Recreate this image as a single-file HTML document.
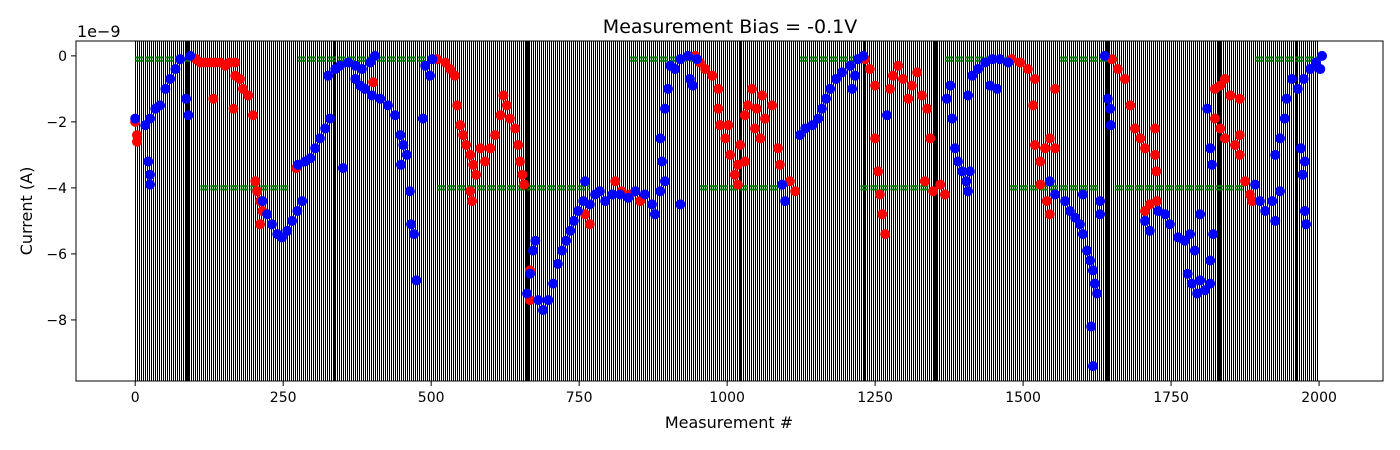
<!DOCTYPE html>
<html><head><meta charset="utf-8"><style>
body{margin:0;background:#fff}
svg{display:block;font-family:"DejaVu Sans","Liberation Sans",sans-serif}
</style></head><body>
<svg id="chart" width="1400" height="450" viewBox="0 0 1400 450" xmlns="http://www.w3.org/2000/svg">
<defs>
<pattern id="stripes" x="135" y="0" width="2" height="10" patternUnits="userSpaceOnUse">
<rect x="0" y="0" width="1.15" height="10" fill="#000" shape-rendering="crispEdges"/>
</pattern>
</defs>
<rect x="0" y="0" width="1400" height="450" fill="#fff"/>
<g id="plot"></g>
<text x="730" y="33" font-size="19" text-anchor="middle">Measurement Bias = -0.1V</text>
<text x="729" y="428" font-size="16" text-anchor="middle">Measurement #</text>
<text transform="translate(32,211) rotate(-90)" font-size="16" text-anchor="middle">Current (A)</text>
<text x="77" y="37" font-size="16">1e−9</text>
</svg>
<script>
const xTicks=[0,250,500,750,1000,1250,1500,1750,2000];
const yTicks=[0,-2,-4,-6,-8];
const greenTopSegs=[[0,93],[275,498],[836,954],[1123,1241],[1368,1478],[1562,1664],[1892,2000]];
const greenBotSegs=[[110,262],[510,768],[954,1090],[1225,1343],[1478,1630],[1655,1875]];
const darkBands=[85,335,660,1020,1230,1350,1640,1830,1960];
const blueX=[0,17,25,34,42,51,59,68,76,93,22,25,25,86,90,215,223,231,240,248,257,265,274,282,275,287,296,304,312,321,329,326,338,346,360,372,383,397,405,351,372,380,388,400,414,427,439,448,453,449,459,464,466,471,475,486,490,502,498,
662,667,672,676,681,689,698,706,714,721,728,735,741,748,757,760,768,777,785,794,806,819,833,845,861,873,887,895,878,921,887,890,895,900,904,912,921,934,937,942,949,1093,1098,
1123,1132,1144,1154,1160,1167,1174,1184,1194,1208,1221,1230,1216,1211,1270,1371,1377,1380,1385,1390,1397,1404,1410,1407,
1407,1414,1424,1436,1448,1461,1475,1444,1456,1545,1554,1571,1579,1588,1596,1601,1608,1613,1618,1621,1625,1615,1618,1601,1630,1630,1638,1643,1647,1648,
1706,1714,1728,1740,1748,1762,1773,1782,1790,1778,1785,1799,1807,1816,1794,1816,1821,1799,1811,1816,1819,1892,1900,1909,1921,1934,1926,
1926,1934,1942,1945,1954,1964,1974,1985,1995,2005,2002,1969,1976,1972,1978,1976];
const blueY=[-1.9,-2.1,-1.9,-1.6,-1.5,-1.0,-0.7,-0.4,-0.1,0,-3.2,-3.6,-3.9,-1.3,-1.8,-4.4,-4.8,-5.1,-5.4,-5.5,-5.3,-5.0,-4.7,-4.4,-3.3,-3.2,-3.1,-2.8,-2.5,-2.2,-1.9,-0.6,-0.4,-0.3,-0.2,-0.3,-0.4,-0.2,0,-3.4,-0.7,-0.9,-1.0,-1.2,-1.3,-1.5,-1.8,-2.4,-2.7,-3.3,-3.0,-4.1,-5.1,-5.4,-6.8,-1.9,-0.3,-0.1,-0.6,
-7.2,-6.6,-5.9,-5.6,-7.4,-7.7,-7.4,-6.9,-6.3,-5.9,-5.6,-5.3,-5.0,-4.7,-4.4,-3.8,-4.5,-4.2,-4.1,-4.4,-4.2,-4.2,-4.3,-4.1,-4.2,-4.5,-4.1,-3.8,-4.8,-4.5,-2.5,-3.2,-1.6,-1.0,-0.3,-0.4,-0.1,0,-0.7,-0.9,-0.1,-3.9,-4.4,
-2.4,-2.2,-2.1,-1.9,-1.6,-1.3,-1.0,-0.7,-0.5,-0.3,-0.1,0,-0.6,-1.0,-1.8,-1.3,-0.9,-1.9,-2.8,-3.2,-3.5,-3.8,-3.5,-4.1,
-1.2,-0.6,-0.4,-0.2,-0.1,-0.1,-0.2,-0.9,-1.0,-3.8,-4.2,-4.4,-4.7,-4.9,-5.1,-5.4,-5.9,-6.2,-6.5,-6.9,-7.2,-8.2,-9.4,-4.2,-4.8,-4.4,0,-1.3,-1.6,-2.1,
-5.0,-5.3,-4.7,-4.8,-5.1,-5.5,-5.6,-5.4,-5.9,-6.6,-6.9,-6.8,-7.1,-6.9,-7.2,-6.2,-5.4,-4.8,-1.6,-2.8,-3.3,-3.9,-4.4,-4.7,-4.4,-4.1,-5.0,
-3.0,-2.5,-1.9,-1.3,-0.7,-1.0,-0.7,-0.4,-0.2,0,-0.4,-2.8,-3.2,-3.6,-5.1,-4.7];
const redX=[0,3,3,103,110,118,127,135,144,152,160,169,169,177,182,191,132,166,199,203,206,211,215,211,272,402,
510,524,532,540,544,549,554,559,566,571,576,566,569,583,591,600,608,617,622,628,633,642,647,650,654,657,667,667,760,768,811,822,836,853,
946,954,963,975,985,985,988,997,1002,1005,1013,1018,1022,1030,1035,1042,1047,1050,1059,1064,1076,1086,1089,1106,1115,1030,1018,1056,
1233,1241,1250,1250,1255,1258,1262,1267,1275,1280,1289,1297,1306,1312,1321,1329,1338,1343,1334,1348,1360,1368,
1481,1495,1508,1520,1554,1517,1520,1529,1537,1545,1554,1529,1540,1545,
1650,1660,1672,1681,1689,1698,1706,1723,1723,1725,1726,1706,1714,
1824,1833,1841,1850,1866,1824,1833,1841,1858,1866,1866,1875,1883,1887];
const redY=[-2.0,-2.4,-2.6,-0.1,-0.2,-0.2,-0.2,-0.2,-0.2,-0.3,-0.2,-0.2,-0.6,-0.7,-1.0,-1.2,-1.3,-1.6,-1.8,-3.8,-4.1,-4.4,-4.7,-5.1,-3.4,-0.8,
-0.1,-0.2,-0.4,-0.6,-1.5,-2.1,-2.4,-2.7,-3.0,-3.3,-3.6,-4.1,-4.4,-2.8,-3.2,-2.8,-2.4,-1.8,-1.2,-1.5,-1.9,-2.2,-2.7,-3.2,-3.6,-3.9,-6.5,-7.4,-4.8,-5.1,-3.8,-4.1,-4.2,-4.4,
0,-0.2,-0.4,-0.6,-1.0,-1.6,-2.1,-2.5,-2.1,-3.0,-3.6,-3.3,-2.7,-1.8,-1.5,-1.0,-2.2,-1.6,-1.2,-1.9,-1.5,-2.8,-3.3,-3.8,-4.1,-3.2,-3.9,-2.5,
-0.1,-0.4,-0.9,-2.5,-3.5,-4.2,-4.8,-5.4,-1.0,-0.6,-0.3,-0.7,-1.3,-0.9,-0.5,-1.2,-1.6,-2.5,-3.8,-4.1,-3.9,-4.2,
-0.1,-0.2,-0.4,-0.7,-1.0,-1.5,-2.7,-3.2,-2.8,-2.5,-2.8,-3.9,-4.4,-4.8,
-0.1,-0.4,-0.7,-1.5,-2.2,-2.5,-2.8,-2.2,-3.0,-3.5,-4.4,-4.7,-4.5,
-1.0,-0.9,-0.7,-1.2,-1.3,-1.9,-2.2,-2.5,-2.7,-2.4,-3.0,-3.8,-4.2,-4.4];

const NS="http://www.w3.org/2000/svg";
const L=76,R=1383,T=41,B=381,XMIN=-100,XMAX=2108,YMIN=-9.85,YMAX=0.45;
function sx(v){return L+(v-XMIN)/(XMAX-XMIN)*(R-L);}
function sy(v){return B-(v-YMIN)/(YMAX-YMIN)*(B-T);}
const plot=document.getElementById('plot');
function mk(tag,attrs,parent){const e=document.createElementNS(NS,tag);for(const k in attrs)e.setAttribute(k,attrs[k]);(parent||plot).appendChild(e);return e;}

const stripes=mk('rect',{x:Math.round(sx(0)),y:T,width:Math.round(sx(2000)-sx(0)),height:B-T,fill:'url(#stripes)','shape-rendering':'crispEdges'});


darkBands.forEach(m=>{
  const b=mk('rect',{x:Math.round(sx(m)),y:T,width:3,height:B-T,fill:'#000','shape-rendering':'crispEdges'});
  
  
});
function greenSeg(s,v){
  [v+0.05,v-0.05].forEach(vv=>{
    const g=mk('line',{x1:sx(s[0]),x2:sx(s[1]),y1:sy(vv),y2:sy(vv),stroke:'#008000','stroke-width':2,'stroke-dasharray':'8 2'});
    
    
  });
}
greenTopSegs.forEach(s=>greenSeg(s,-0.1));
greenBotSegs.forEach(s=>greenSeg(s,-4));
function pts(xs,ys,col,name){
  xs.forEach((x,i)=>{
    const c=mk('circle',{cx:sx(x),cy:sy(ys[i]),r:5,fill:col});
    
    
  });
}
pts(redX,redY,'#ff0000','red-point');
pts(blueX,blueY,'#0000ff','blue-point');

const frame=mk('rect',{x:L,y:T,width:R-L,height:B-T,fill:'none',stroke:'#000','stroke-width':1});


xTicks.forEach(t=>{
  const x=sx(t);
  const tk=mk('line',{x1:x,x2:x,y1:B,y2:B+5,stroke:'#000'});
  
  
  const tx=mk('text',{x:x,y:B+21,'font-size':14,'text-anchor':'middle'});
  tx.textContent=t;
  
  
});
yTicks.forEach(t=>{
  const y=sy(t);
  const tk=mk('line',{x1:L-5,x2:L,y1:y,y2:y,stroke:'#000'});
  
  
  const tx=mk('text',{x:L-9,y:y+5,'font-size':14,'text-anchor':'end'});
  tx.textContent=t<0?'−'+(-t):String(t);
  
  
});
</script>
</body></html>
